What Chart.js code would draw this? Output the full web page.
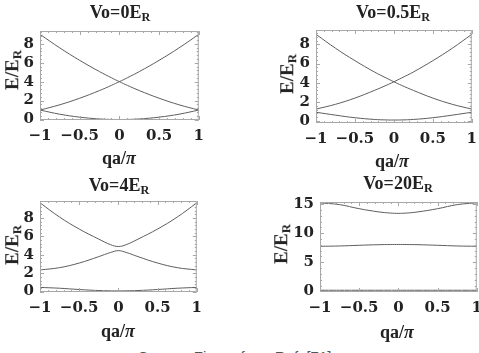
<!DOCTYPE html>
<html lang="en">
<head>
<meta charset="UTF-8" />
<title>Band structure vs lattice depth</title>
<script src="https://cdn.jsdelivr.net/npm/chart.js"></script>
<style>
  body { margin: 0; width: 479px; height: 353px; overflow: hidden; background: #fff; position: relative;
         font-family: "Liberation Serif", serif; font-weight: bold; color: #222; }
  .panel { position: absolute; }
  .lbl { position: absolute; white-space: nowrap; transform: translate(-50%, -50%); line-height: 1; }
  .ttl { font-size: 18px; }
  .xt { font-size: 18px; }
  .yt { font-size: 19px; transform: translate(-50%, -50%) rotate(-90deg); }
  sub { font-size: 0.68em; vertical-align: -0.2em; }
  .src { position: absolute; left: 138px; top: 348px; font: 15px "Liberation Sans", sans-serif; color: #555; white-space: nowrap; }
</style>
</head>
<body>
<div class="src">Source: Figure from Ref. [71]</div>
<script>
  // quasi-momentum grid qa/pi
  const qa = [-1, -0.75, -0.5, -0.25, -0.1, 0, 0.1, 0.25, 0.5, 0.75, 1];

  // Vo = 0
  const v0Low  = [1, 0.56, 0.25, 0.06, 0.01, 0, 0.01, 0.06, 0.25, 0.56, 1];
  const v0Up   = [1, 1.56, 2.25, 3.06, 3.61, 4, 4.41, 5.06, 6.25, 7.56, 9];
  const v0Down = [9, 7.56, 6.25, 5.06, 4.41, 4, 3.61, 3.06, 2.25, 1.56, 1];

  // Vo = 0.5
  const v05Low  = [0.92, 0.62, 0.35, 0.17, 0.12, 0.11, 0.12, 0.17, 0.35, 0.62, 0.92];
  const v05Up   = [1.25, 1.75, 2.4, 3.2, 3.72, 4.1, 4.5, 5.12, 6.3, 7.6, 9.05];
  const v05Down = [9.05, 7.6, 6.3, 5.12, 4.5, 4.1, 3.72, 3.2, 2.4, 1.75, 1.25];

  // Vo = 4
  const v4Band1 = [0.45, 0.36, 0.22, 0.11, 0.08, 0.07, 0.08, 0.11, 0.22, 0.36, 0.45];
  const v4Band2 = [2.35, 2.6, 3.1, 3.8, 4.25, 4.45, 4.25, 3.8, 3.1, 2.6, 2.35];
  const v4Band3 = [9.65, 8.1, 6.8, 5.7, 5.1, 4.9, 5.1, 5.7, 6.8, 8.1, 9.65];

  // Vo = 20
  const v20Band1 = [0.2, 0.2, 0.2, 0.2, 0.2, 0.2, 0.2, 0.2, 0.2, 0.2, 0.2];
  const v20Band2 = [7.75, 7.8, 7.92, 8.02, 8.05, 8.06, 8.05, 8.02, 7.92, 7.8, 7.75];
  const v20Band3 = [15.2, 14.9, 14.2, 13.65, 13.45, 13.4, 13.45, 13.65, 14.2, 14.9, 15.2];

  const titles = ["0", "0.5", "4", "20"];

  const panels = [
    { name: titles[0], series: [v0Low, v0Up, v0Down], box: { l: 40, t: 26, r: 199, b: 120 }, ymin: -0.05, ymax: 9.35, step: 2,
      title: [120, 13], xt: [119, 158], yt: [13, 70] },
    { name: titles[1], series: [v05Low, v05Up, v05Down], box: { l: 316, t: 25, r: 472, b: 123 }, ymin: -0.2, ymax: 9.5, step: 2,
      title: [393, 13], xt: [392, 161], yt: [288, 74] },
    { name: titles[2], series: [v4Band1, v4Band2, v4Band3], box: { l: 40, t: 196, r: 197, b: 292 }, ymin: -0.05, ymax: 9.85, step: 2,
      title: [119, 186], xt: [118, 331], yt: [13, 245] },
    { name: titles[3], series: [v20Band1, v20Band2, v20Band3], box: { l: 320, t: 197, r: 477, b: 292 }, ymin: -0.1, ymax: 15.35, step: 5,
      title: [398, 184], xt: [397, 332], yt: [282, 244] }
  ];

  const tickFont = { family: "DejaVu Serif", weight: "bold", size: 15 };
  const fmt = v => (v < 0 ? "\u2212" + Math.abs(v) : String(v));

  // grey Mathematica-like frame with small inward ticks
  const framePlugin = {
    id: "frame",
    afterDraw(chart) {
      const { ctx, chartArea: a, scales: { x, y } } = chart;
      ctx.save();
      ctx.strokeStyle = "#a8a8a8";
      ctx.lineWidth = 1;
      ctx.strokeRect(a.left + 0.5, a.top + 0.5, a.right - a.left - 1, a.bottom - a.top - 1);
      const marks = (scale, step) => {
        const out = [];
        const minor = step / 5;
        const first = scale.ticks[0].value;
        for (let v = first; v >= scale.min - 1e-9; v -= minor) out.push([v, Math.abs(v - Math.round(v / step) * step) < 1e-6]);
        for (let v = first + minor; v <= scale.max + 1e-9; v += minor) out.push([v, Math.abs(v - Math.round(v / step) * step) < 1e-6]);
        return out;
      };
      ctx.beginPath();
      marks(x, 0.5).forEach(([v, major]) => {
        const px = Math.round(x.getPixelForValue(v)) + 0.5, len = major ? 4 : 2;
        ctx.moveTo(px, a.bottom); ctx.lineTo(px, a.bottom - len);
        ctx.moveTo(px, a.top); ctx.lineTo(px, a.top + len);
      });
      marks(y, chart.options.scales.y.ticks.stepSize).forEach(([v, major]) => {
        const py = Math.round(y.getPixelForValue(v)) + 0.5, len = major ? 4 : 2;
        ctx.moveTo(a.left, py); ctx.lineTo(a.left + len, py);
        ctx.moveTo(a.right, py); ctx.lineTo(a.right - len, py);
      });
      ctx.stroke();
      ctx.restore();
    }
  };

  const padL = 44, padT = 10, padR = 12, padB = 30;

  function label(cls, html, pos) {
    const d = document.createElement("div");
    d.className = "lbl " + cls;
    d.innerHTML = html;
    d.style.left = pos[0] + "px";
    d.style.top = pos[1] + "px";
    document.body.appendChild(d);
  }

  panels.forEach(p => {
    const w = p.box.r - p.box.l + padL + padR;
    const h = p.box.b - p.box.t + padT + padB;
    const wrap = document.createElement("div");
    wrap.className = "panel";
    wrap.style.left = (p.box.l - padL) + "px";
    wrap.style.top = (p.box.t - padT) + "px";
    const cv = document.createElement("canvas");
    cv.width = w; cv.height = h;
    wrap.appendChild(cv);
    document.body.appendChild(wrap);

    new Chart(cv, {
      type: "line",
      data: {
        datasets: p.series.map(s => ({
          data: qa.map((q, i) => ({ x: q, y: s[i] })),
          borderColor: "#5e5e5e",
          borderWidth: 1,
          pointRadius: 0,
          tension: 0.4,
          fill: false
        }))
      },
      options: {
        responsive: false,
        animation: false,
        layout: { padding: { top: padT, right: padR, left: 0, bottom: 0 } },
        plugins: { legend: { display: false }, tooltip: { enabled: false } },
        scales: {
          x: {
            type: "linear", min: -1, max: 1,
            grid: { display: false, drawTicks: false },
            border: { display: false },
            ticks: { stepSize: 0.5, padding: 7, font: tickFont, color: "#222", callback: fmt,
                     maxRotation: 0, autoSkip: false },
            afterFit: s => { s.height = padB; }
          },
          y: {
            min: p.ymin, max: p.ymax,
            grid: { display: false, drawTicks: false },
            border: { display: false },
            ticks: { stepSize: p.step, includeBounds: false, padding: 6, font: tickFont, color: "#222" },
            afterFit: s => { s.width = padL; }
          }
        }
      },
      plugins: [framePlugin]
    });

    label("ttl", "Vo=" + p.name + "E<sub>R</sub>", p.title);
    label("xt", "qa/<i>\u03c0</i>", p.xt);
    label("yt", "E/E<sub>R</sub>", p.yt);
  });
</script>
</body>
</html>
